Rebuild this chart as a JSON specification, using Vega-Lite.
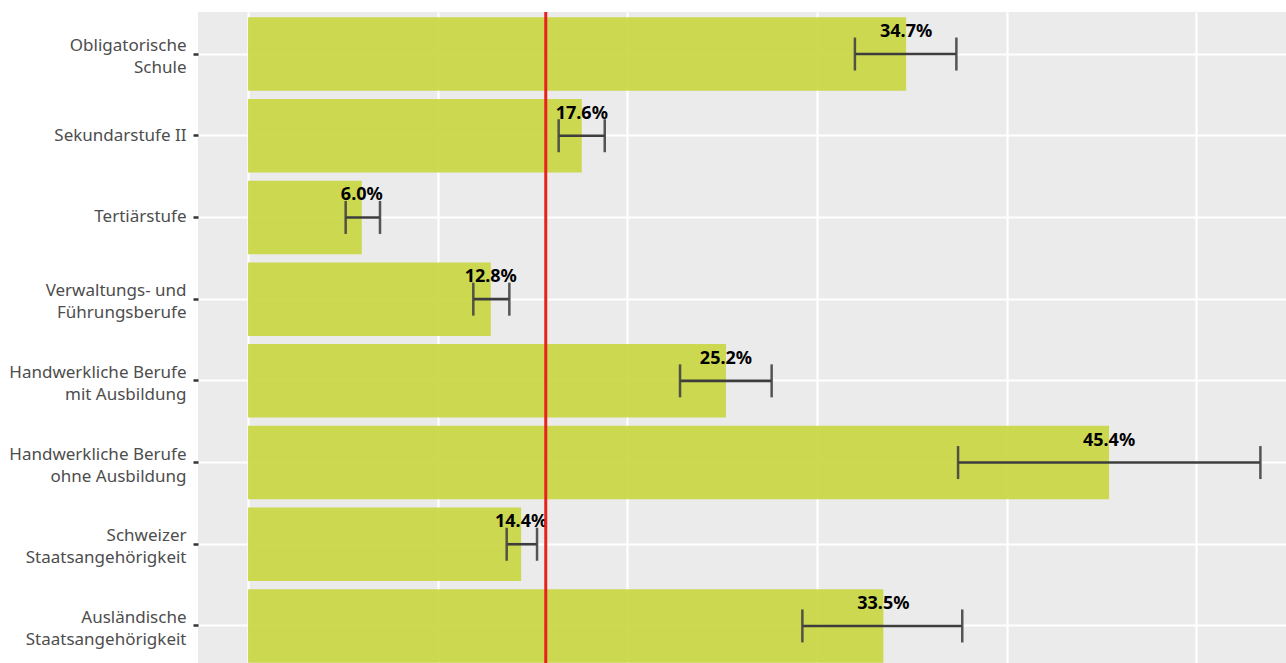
{
  "$schema": "https://vega.github.io/schema/vega-lite/v6.json",
  "autosize": {"type": "none"},
  "width": 1088,
  "height": 651,
  "padding": {"left": 198, "top": 12, "right": 0, "bottom": 0},
  "background": "white",
  "config": {
    "view": {"fill": "#EBEBEB", "stroke": null},
    "font": "Noto Sans"
  },
  "datasets": {
    "rates": [
      {"gruppe": "Obligatorische\nSchule", "anteil": 34.7, "unten": 32.0, "oben": 37.35, "beschriftung": "34.7%"},
      {"gruppe": "Sekundarstufe II", "anteil": 17.6, "unten": 16.38, "oben": 18.81, "beschriftung": "17.6%"},
      {"gruppe": "Tertiärstufe", "anteil": 6.0, "unten": 5.15, "oben": 6.96, "beschriftung": "6.0%"},
      {"gruppe": "Verwaltungs- und\nFührungsberufe", "anteil": 12.8, "unten": 11.88, "oben": 13.78, "beschriftung": "12.8%"},
      {"gruppe": "Handwerkliche Berufe\nmit Ausbildung", "anteil": 25.2, "unten": 22.78, "oben": 27.61, "beschriftung": "25.2%"},
      {"gruppe": "Handwerkliche Berufe\nohne Ausbildung", "anteil": 45.4, "unten": 37.44, "oben": 53.38, "beschriftung": "45.4%"},
      {"gruppe": "Schweizer\nStaatsangehörigkeit", "anteil": 14.4, "unten": 13.64, "oben": 15.24, "beschriftung": "14.4%"},
      {"gruppe": "Ausländische\nStaatsangehörigkeit", "anteil": 33.5, "unten": 29.23, "oben": 37.66, "beschriftung": "33.5%"}
    ],
    "gesamt": [{"anteil": 15.7}]
  },
  "layer": [
    {
      "data": {"name": "rates"},
      "mark": {"type": "bar", "color": "#C9D641", "opacity": 0.92},
      "encoding": {
        "y": {
          "field": "gruppe",
          "type": "nominal",
          "sort": null,
          "title": null,
          "scale": {"paddingInner": 0.1, "paddingOuter": 0.034, "align": 0.95},
          "axis": {
            "grid": true,
            "gridColor": "white",
            "gridWidth": 2.2,
            "domain": false,
            "ticks": true,
            "tickColor": "#333333",
            "tickSize": 5,
            "tickWidth": 2.5,
            "labelPadding": 7,
            "labelFont": "Noto Sans",
            "labelFontSize": 17,
            "labelColor": "#4D4D4D",
            "labelAlign": "right",
            "labelBaseline": "middle",
            "labelLineHeight": 22,
            "labelLimit": 0,
            "labelOffset": {
              "condition": {"test": "indexof(datum.value, '\\n') >= 0", "value": -8},
              "value": 0
            },
            "labelExpr": "split(datum.label, '\\n')"
          }
        },
        "x": {
          "field": "anteil",
          "type": "quantitative",
          "title": null,
          "scale": {"domain": [-2.636, 54.73], "nice": false, "zero": false},
          "axis": {
            "values": [0, 10, 20, 30, 40, 50],
            "grid": true,
            "gridColor": "white",
            "gridWidth": 2.2,
            "labels": false,
            "ticks": false,
            "domain": false
          }
        }
      }
    },
    {
      "data": {"name": "rates"},
      "mark": {"type": "rule", "color": "#3D3D3D", "strokeWidth": 2.6},
      "encoding": {
        "y": {"field": "gruppe", "type": "nominal", "sort": null},
        "x": {"field": "unten", "type": "quantitative"},
        "x2": {"field": "oben"}
      }
    },
    {
      "data": {"name": "rates"},
      "mark": {"type": "tick", "color": "#444444", "thickness": 2.5, "size": 33, "opacity": 0.9},
      "encoding": {
        "y": {"field": "gruppe", "type": "nominal", "sort": null},
        "x": {"field": "unten", "type": "quantitative"}
      }
    },
    {
      "data": {"name": "rates"},
      "mark": {"type": "tick", "color": "#444444", "thickness": 2.5, "size": 33, "opacity": 0.9},
      "encoding": {
        "y": {"field": "gruppe", "type": "nominal", "sort": null},
        "x": {"field": "oben", "type": "quantitative"}
      }
    },
    {
      "data": {"name": "rates"},
      "mark": {
        "type": "text",
        "font": "Noto Sans",
        "fontWeight": "bold",
        "fontSize": 18,
        "color": "black",
        "align": "center",
        "baseline": "alphabetic",
        "dy": -17
      },
      "encoding": {
        "y": {"field": "gruppe", "type": "nominal", "sort": null},
        "x": {"field": "anteil", "type": "quantitative"},
        "text": {"field": "beschriftung", "type": "nominal"}
      }
    },
    {
      "data": {"name": "gesamt"},
      "mark": {"type": "rule", "color": "#E8211E", "strokeWidth": 3},
      "encoding": {
        "x": {"field": "anteil", "type": "quantitative"}
      }
    }
  ]
}
